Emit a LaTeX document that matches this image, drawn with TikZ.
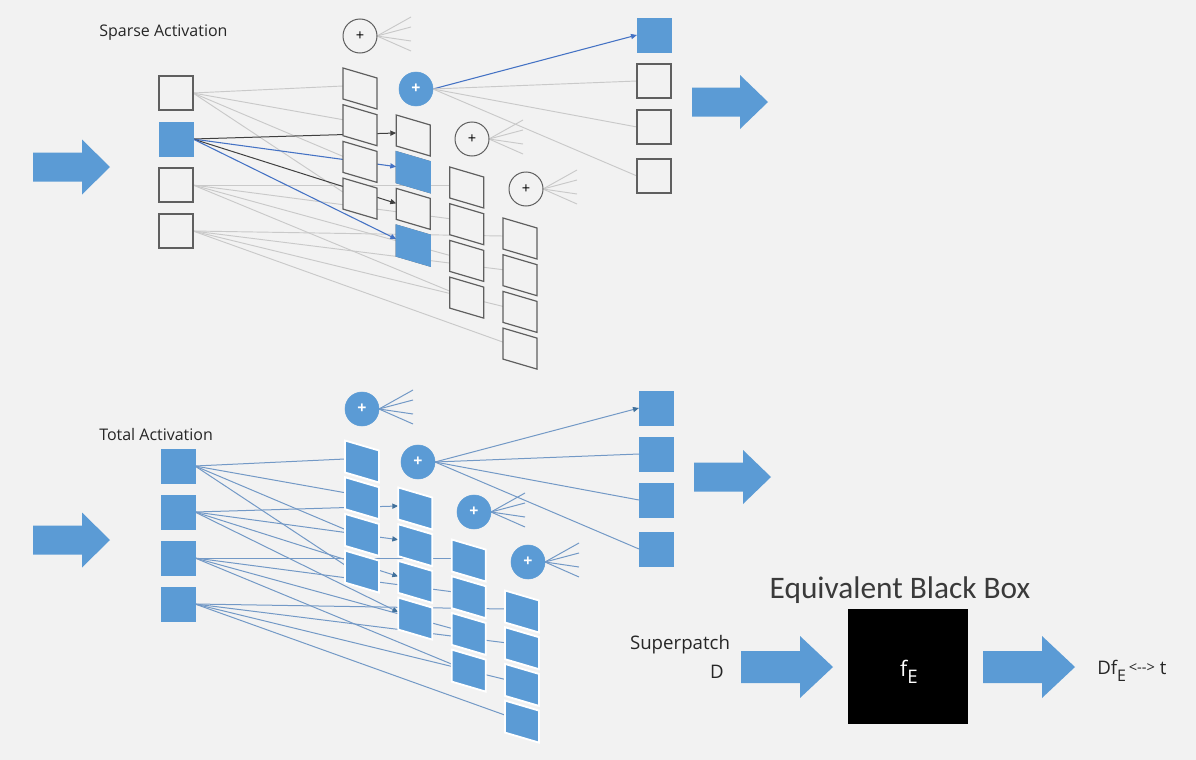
\documentclass[tikz,border=0pt]{standalone}
\usepackage{fontspec}
\setmainfont{Open Sans}
\newfontfamily\calib{Carlito}
\usetikzlibrary{arrows.meta}
\definecolor{bgc}{HTML}{F2F2F2}
\definecolor{obox}{HTML}{5B9BD5}
\definecolor{hline}{HTML}{4472C4}
\definecolor{gline}{HTML}{C9C9C9}
\definecolor{bline}{HTML}{7399C6}
\definecolor{tipb}{HTML}{41719C}
\definecolor{edgec}{HTML}{5F5F5F}
\definecolor{darkl}{HTML}{404040}
\definecolor{txt}{HTML}{262626}
\definecolor{txtl}{HTML}{3A3A3A}
\pgfdeclarelayer{bgl}
\pgfdeclarelayer{lines}
\pgfsetlayers{bgl,lines,main}
\newcommand\blockarrow[6]{\fill[obox] (#1,{#4-#5}) -- (#2,{#4-#5}) -- (#2,{#4-#6}) -- (#3,#4) -- (#2,{#4+#6}) -- (#2,{#4+#5}) -- (#1,{#4+#5}) -- cycle;}
\newcommand\patchpath[2]{(#1,#2) -- ++(34,10) -- ++(0,31) -- ++(-34,-10) -- cycle}
\begin{document}
\begin{tikzpicture}[x=0.75pt,y=-0.75pt,
  insq/.style={draw=edgec, line width=0.9pt, fill=bgc, minimum size=25.5pt, inner sep=0pt, outer sep=0pt},
  insqB/.style={fill=obox, draw=obox, line width=0.5pt, minimum size=25.5pt, inner sep=0pt, outer sep=0pt},
  circW/.style={circle, draw=edgec, line width=0.75pt, fill=bgc, minimum size=25.5pt, inner sep=0pt, outer sep=0pt, text=black, font=\fontsize{11}{11}\selectfont},
  circB/.style={circle, fill=obox, draw=obox, minimum size=25.5pt, inner sep=0pt, outer sep=0pt, text=white, font=\fontsize{12}{12}\selectfont\bfseries},
  patchW/.style={draw=edgec, line width=0.9pt, fill=bgc},
  patchB/.style={fill=obox, draw=obox, line width=0.9pt},
  patchBB/.style={fill=obox, draw=white, line width=1.4pt},
  gl/.style={gline, line width=0.7pt},
  blk/.style={darkl, line width=0.75pt, -{Triangle[length=4.5pt,width=3.8pt]}},
  hl/.style={hline, line width=0.8pt, -{Triangle[length=4.5pt,width=3.8pt]}},
  bl/.style={bline, line width=0.75pt},
  blarr/.style={bline, line width=0.75pt, -{Triangle[length=4.5pt,width=3.8pt,color=tipb]}},
  lbl/.style={text=txt, inner sep=0pt, font=\fontsize{12}{14}\selectfont},
  lbig/.style={text=txt, inner sep=0pt, font=\fontsize{14}{16}\selectfont}
]
\begin{pgfonlayer}{bgl}
\fill[bgc] (0,0) rectangle (1196,760);
\end{pgfonlayer}
\useasboundingbox (0,0) rectangle (1196,760);

% ================= TOP: sparse activation =================
\node[lbl, anchor=west] (sa) at (99,33) {Sparse Activation};
\node[insq]  (tin1) at (176,93) {};
\node[insqB] (tin2) at (176,139) {};
\node[insq]  (tin3) at (176,185) {};
\node[insq]  (tin4) at (176,231) {};
\foreach \k/\X/\T in {1/343/68,2/396.3/115,3/449.7/167,4/503/218}{
  \foreach \j/\o in {1/18,2/15,3/15,4/14}{
    \pgfmathsetmacro\Y{\T+36.7*(\j-1)}
    \coordinate (tp\k\j) at (\X,\Y+\o);
    \draw[patchW] \patchpath{\X}{\Y};
  }
}
\draw[patchB] \patchpath{396.3}{151.7};
\draw[patchB] \patchpath{396.3}{225.1};
\node[circW] (tc1) at (360,36) {+};
\node[circB] (tc2) at (416,89) {+};
\node[circW] (tc3) at (472,139) {+};
\node[circW] (tc4) at (526,189) {+};
\node[insqB] (tout1) at (654,35) {};
\node[insq]  (tout2) at (654,81) {};
\node[insq]  (tout3) at (654,127) {};
\node[insq]  (tout4) at (654,176) {};
\begin{pgfonlayer}{lines}
\foreach \j in {1,...,4} \draw[gl] (tin1.east) -- (tp1\j);
\foreach \j in {1,...,4} \draw[gl] (tin3.east) -- (tp3\j);
\foreach \j in {1,...,4} \draw[gl] (tin4.east) -- (tp4\j);
\draw[blk] (tin2.east) -- (tp21);
\draw[hl]  (tin2.east) -- (tp22);
\draw[blk] (tin2.east) -- (tp23);
\draw[hl]  (tin2.east) -- (tp24);
\draw[hl] (tc2.east) -- (tout1.west);
\draw[gl] (tc2.east) -- (tout2.west);
\draw[gl] (tc2.east) -- (tout3.west);
\draw[gl] (tc2.east) -- (tout4.west);
\foreach \c in {1,3,4}{
  \foreach \n/\dy in {a/-19,b/-9,c/5,d/15}{
    \coordinate (tf\c\n) at ([shift={(51,\dy)}]tc\c.center);
    \draw[gl] (tc\c.east) -- (tf\c\n);
  }
}
\end{pgfonlayer}

% ================= BOTTOM: total activation =================
\node[lbl, anchor=west] (ta) at (99,434) {Total Activation};
\begin{scope}[shift={(2,373)}]
\node[insqB] (bin1) at (176,93) {};
\node[insqB] (bin2) at (176,139) {};
\node[insqB] (bin3) at (176,185) {};
\node[insqB] (bin4) at (176,231) {};
\foreach \k/\X/\T in {1/343/68,2/396.3/115,3/449.7/167,4/503/218}{
  \foreach \j/\o in {1/18,2/15,3/15,4/14}{
    \pgfmathsetmacro\Y{\T+36.7*(\j-1)}
    \coordinate (bp\k\j) at (\X,\Y+\o);
    \draw[patchBB] (\X,\Y-0.5) -- ++(34,10) -- ++(0,32) -- ++(-34,-10) -- cycle;
  }
}
\node[circB] (bc1) at (360,36) {+};
\node[circB] (bc2) at (416,89) {+};
\node[circB] (bc3) at (472,139) {+};
\node[circB] (bc4) at (526,189) {+};
\node[insqB] (bout1) at (654,35) {};
\node[insqB] (bout2) at (654,81) {};
\node[insqB] (bout3) at (654,127) {};
\node[insqB] (bout4) at (654,176) {};
\begin{pgfonlayer}{lines}
\foreach \j in {1,...,4} \draw[bl] (bin1.east) -- (bp1\j);
\foreach \j in {1,...,4} \draw[blarr] (bin2.east) -- (bp2\j);
\foreach \j in {1,...,4} \draw[bl] (bin3.east) -- (bp3\j);
\foreach \j in {1,...,4} \draw[bl] (bin4.east) -- (bp4\j);
\draw[blarr] (bc2.east) -- (bout1.west);
\draw[bl] (bc2.east) -- (bout2.west);
\draw[bl] (bc2.east) -- (bout3.west);
\draw[bl] (bc2.east) -- (bout4.west);
\foreach \c in {1,3,4}{
  \foreach \n/\dy in {a/-19,b/-9,c/5,d/15}{
    \coordinate (bf\c\n) at ([shift={(51,\dy)}]bc\c.center);
    \draw[bl] (bc\c.east) -- (bf\c\n);
  }
}
\end{pgfonlayer}
\end{scope}

% ================= big arrows =================
\blockarrow{33}{82}{110}{167}{14.5}{27.5}
\blockarrow{692}{740}{768}{102}{14.5}{27}
\blockarrow{33}{82}{110}{540}{14.5}{27.5}
\blockarrow{694}{743}{771}{477}{14.5}{27}
\blockarrow{741}{800}{833}{667}{16}{31}
\blockarrow{983}{1042}{1075}{667}{16}{31}

% ================= black box =================
\node[text=txtl, inner sep=0pt, font=\calib\fontsize{23.5}{26}\selectfont] (ebb) at (900,590) {Equivalent Black Box};
\node[fill=black, minimum width=90pt, minimum height=86.25pt, inner sep=0pt] (bbox) at (908,666.5) {};
\node[text=white, inner sep=0pt, font=\fontsize{16}{17}\selectfont] (fE) at (909,672) {f\raisebox{-5.5pt}{\fontsize{14}{15}\selectfont E}};
\node[lbig, anchor=center] (sp) at (680,645) {Superpatch};
\node[lbig, anchor=center] (spd) at (717,672) {D};
\node[lbig, anchor=west] (dft) at (1097,671) {Df\raisebox{-5pt}{\fontsize{12}{12}\selectfont E}\hspace{2pt}\raisebox{1.5pt}{\fontsize{11}{11}\selectfont <\kern0pt-\kern0pt->} t};
\end{tikzpicture}
\end{document}
